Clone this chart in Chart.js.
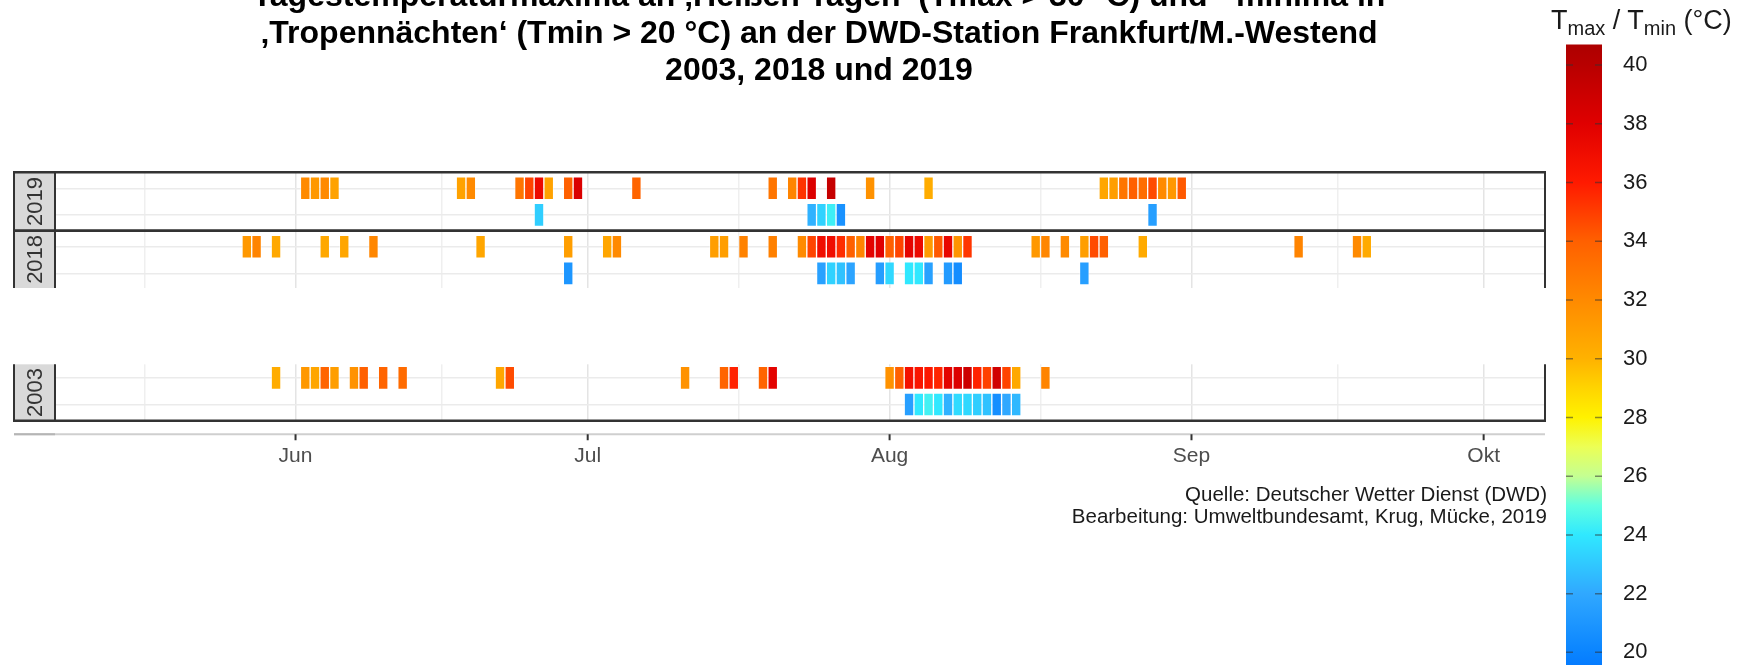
<!DOCTYPE html>
<html lang="de">
<head>
<meta charset="utf-8">
<title>Heiße Tage und Tropennächte – Frankfurt/M.-Westend</title>
<script src="https://cdn.jsdelivr.net/npm/chart.js@4.4.0/dist/chart.umd.min.js"></script>
<style>
    html, body { margin: 0; padding: 0; background: #fff; }
    #wrap { position: relative; width: 1744px; height: 665px; overflow: hidden; font-family: 'Liberation Sans', Arial, sans-serif; }
    #haupt { position: absolute; left: 0; top: 0; }
    #skala { position: absolute; left: 1560px; top: 0; }
    #titel { position: absolute; left: 0; top: -23px; width: 1638px; text-align: center; font-weight: bold; font-size: 32px; line-height: 37px; color: #000; white-space: nowrap; }
    #quelle { position: absolute; right: 197px; top: 483px; text-align: right; font-size: 20.5px; line-height: 22px; color: #1a1a1a; white-space: nowrap; }
    #skalaTitel { position: absolute; left: 1551px; top: 6px; font-size: 27px; line-height: 28px; color: #1a1a1a; white-space: nowrap; }
    #skalaTitel sub { font-size: 20px; line-height: 0; vertical-align: -6px; }
</style>
</head>
<body>
<div id="wrap">
    <canvas id="haupt" width="1744" height="665"></canvas>
    <canvas id="skala" width="184" height="665"></canvas>
    <div id="titel">Tagestemperaturmaxima an ‚Heißen Tagen‘ (Tmax &gt; 30 °C) und&nbsp; -minima in<br>‚Tropennächten‘ (Tmin &gt; 20 °C) an der DWD-Station Frankfurt/M.-Westend<br>2003, 2018 und 2019</div>
    <div id="skalaTitel">T<sub>max</sub> / T<sub>min</sub> (°C)</div>
    <div id="quelle">Quelle: Deutscher Wetter Dienst (DWD)<br>Bearbeitung: Umweltbundesamt, Krug, Mücke, 2019</div>
</div>
<script>
// Achse: Tag im Jahr (kein Schaltjahr)
const monatsTage = [152, 182, 213, 244, 274];
const monatsNamen = ['Jun', 'Jul', 'Aug', 'Sep', 'Okt'];
const zwischenTage = [136.5, 167, 197.5, 228.5, 259];

// 2019
const tage2019Max = [153, 154, 155, 156, 169, 170, 175, 176, 177, 178, 180, 181, 187, 201, 203, 204, 205, 207, 211, 217, 235, 236, 237, 238, 239, 240, 241, 242, 243];
const temp2019Max = [32.0, 31.3, 32.0, 30.8, 30.8, 32.0, 33.0, 34.8, 37.2, 30.8, 34.0, 38.3, 33.8, 33.0, 32.3, 35.3, 38.2, 39.3, 31.6, 30.3, 30.6, 31.0, 33.0, 34.0, 33.4, 34.6, 32.0, 31.3, 34.2];
const tage2019Min = [177, 205, 206, 207, 208, 240];
const temp2019Min = [23.2, 22.3, 23.3, 24.3, 20.8, 21.5];

// 2018
const tage2018Max = [147, 148, 150, 155, 157, 160, 171, 180, 184, 185, 195, 196, 198, 201, 204, 205, 206, 207, 208, 209, 210, 211, 212, 213, 214, 215, 216, 217, 218, 219, 220, 221, 228, 229, 231, 233, 234, 235, 239, 255, 261, 262];
const temp2018Max = [31.3, 32.3, 30.5, 30.5, 30.6, 32.2, 30.6, 31.0, 30.6, 32.0, 31.0, 31.0, 32.4, 32.5, 32.0, 34.8, 37.0, 37.0, 35.5, 34.0, 32.3, 37.8, 38.0, 34.0, 34.8, 37.7, 37.3, 31.2, 34.2, 37.5, 31.5, 35.2, 31.3, 32.2, 32.0, 31.0, 34.6, 34.0, 30.4, 32.3, 32.0, 30.4];
const tage2018Min = [180, 206, 207, 208, 209, 212, 213, 215, 216, 217, 219, 220, 233];
const temp2018Min = [21.0, 21.6, 23.3, 22.8, 21.8, 21.4, 23.5, 24.0, 24.0, 21.6, 21.3, 20.5, 21.5];

// 2003
const tage2003Max = [150, 153, 154, 155, 156, 158, 159, 161, 163, 173, 174, 192, 196, 197, 200, 201, 213, 214, 215, 216, 217, 218, 219, 220, 221, 222, 223, 224, 225, 226, 229];
const temp2003Max = [30.3, 31.3, 30.6, 33.8, 31.0, 31.6, 34.0, 33.8, 33.5, 30.6, 34.6, 31.6, 33.8, 35.8, 33.8, 37.8, 31.6, 34.0, 36.8, 36.4, 36.2, 35.7, 37.8, 38.2, 39.0, 35.8, 34.9, 38.8, 34.8, 30.5, 32.3];
const tage2003Min = [215, 216, 217, 218, 219, 220, 221, 222, 223, 224, 225, 226];
const temp2003Min = [21.5, 24.0, 24.4, 24.0, 22.3, 23.6, 23.5, 23.2, 22.8, 20.6, 22.0, 22.5];

// Farbskala
const skalaTemp = [19, 20, 22, 24, 25, 26, 27, 28, 29, 30, 32, 34, 36, 38, 40, 41];
const skalaFarbe = ['#0070ff', '#0a84ff', '#30a8ff', '#30e8ff', '#60ffe0', '#c4ff92', '#ecff55', '#fff200', '#ffd400', '#ffb200', '#ff8a00', '#ff6000', '#ff1a00', '#e00000', '#b80000', '#a80000'];

// Layout der Panels (y-Einheiten: eine Zeile = 1)
const zeilen = { '2019': [0, 1], '2018': [2.2, 3.2], '2003': [7.13, 8.13] };
const panels = [
    { jahr: '2019', oben: -0.6, unten: 1.6, linieOben: true, linieUnten: true },
    { jahr: '2018', oben: 1.6, unten: 3.75, linieOben: true, linieUnten: false },
    { jahr: '2003', oben: 6.62, unten: 8.74, linieOben: false, linieUnten: true }
];

Chart.defaults.font.family = "'Liberation Sans', Arial, sans-serif";

function hexZuRgb(h) {
    return [parseInt(h.slice(1, 3), 16), parseInt(h.slice(3, 5), 16), parseInt(h.slice(5, 7), 16)];
}

// Temperatur -> Farbe (lineare Interpolation zwischen den Stützstellen)
function farbeFuer(t) {
    let i = 0;
    while (i < skalaTemp.length - 2 && t > skalaTemp[i + 1]) i++;
    const f = Math.max(0, Math.min(1, (t - skalaTemp[i]) / (skalaTemp[i + 1] - skalaTemp[i])));
    const a = hexZuRgb(skalaFarbe[i]);
    const b = hexZuRgb(skalaFarbe[i + 1]);
    const c = a.map((v, k) => Math.round(v + (b[k] - v) * f));
    return `rgb(${c[0]},${c[1]},${c[2]})`;
}

function reihe(label, tage, temps, zeile) {
    return {
        label: label,
        data: tage.map(d => ({ x: [d - 0.5, d + 0.5], y: zeile })),
        backgroundColor: temps.map(farbeFuer)
    };
}

const datensaetze = [
    reihe('2019 Tmax', tage2019Max, temp2019Max, zeilen['2019'][0]),
    reihe('2019 Tmin', tage2019Min, temp2019Min, zeilen['2019'][1]),
    reihe('2018 Tmax', tage2018Max, temp2018Max, zeilen['2018'][0]),
    reihe('2018 Tmin', tage2018Min, temp2018Min, zeilen['2018'][1]),
    reihe('2003 Tmax', tage2003Max, temp2003Max, zeilen['2003'][0]),
    reihe('2003 Tmin', tage2003Min, temp2003Min, zeilen['2003'][1])
];

// Rahmen, Jahres-Streifen und untere Achse
const panelRahmen = {
    id: 'panelRahmen',
    beforeDatasetsDraw(chart) {
        const { ctx, scales: { y } } = chart;
        // Lücke zwischen 2018 und 2003 freistellen
        const y1 = y.getPixelForValue(panels[1].unten);
        const y2 = y.getPixelForValue(panels[2].oben);
        ctx.save();
        ctx.fillStyle = '#fff';
        ctx.fillRect(0, y1, chart.width, y2 - y1);
        ctx.restore();
    },
    afterDatasetsDraw(chart) {
        const { ctx, chartArea, scales: { x, y } } = chart;
        const links = chartArea.left - 41;
        ctx.save();
        panels.forEach(p => {
            const yo = y.getPixelForValue(p.oben);
            const yu = y.getPixelForValue(p.unten);
            ctx.fillStyle = '#d9d9d9';
            ctx.fillRect(links, yo, chartArea.left - links, yu - yo);

            ctx.save();
            ctx.translate((links + chartArea.left) / 2, (yo + yu) / 2);
            ctx.rotate(-Math.PI / 2);
            ctx.fillStyle = '#333';
            ctx.font = "22px 'Liberation Sans', Arial, sans-serif";
            ctx.textAlign = 'center';
            ctx.textBaseline = 'middle';
            ctx.fillText(p.jahr, 0, 1);
            ctx.restore();

            ctx.strokeStyle = '#333';
            ctx.lineWidth = 2;
            ctx.beginPath();
            [links, chartArea.left, chartArea.right].forEach(px => {
                ctx.moveTo(px, yo);
                ctx.lineTo(px, yu);
            });
            ctx.stroke();
            ctx.lineWidth = 2.5;
            ctx.beginPath();
            if (p.linieOben) { ctx.moveTo(links - 1, yo); ctx.lineTo(chartArea.right + 1, yo); }
            if (p.linieUnten) { ctx.moveTo(links - 1, yu); ctx.lineTo(chartArea.right + 1, yu); }
            ctx.stroke();
        });

        // graue Achsenlinie mit Monatsstrichen
        const ya = chartArea.bottom + 13.5;
        ctx.strokeStyle = '#cfcfcf';
        ctx.lineWidth = 2;
        ctx.beginPath();
        ctx.moveTo(links, ya);
        ctx.lineTo(chartArea.right, ya);
        ctx.stroke();
        ctx.strokeStyle = '#b5b5b5';
        ctx.beginPath();
        ctx.moveTo(links, ya);
        ctx.lineTo(chartArea.left, ya);
        ctx.stroke();
        ctx.strokeStyle = '#333';
        ctx.beginPath();
        monatsTage.forEach(d => {
            const px = x.getPixelForValue(d);
            ctx.moveTo(px, ya);
            ctx.lineTo(px, ya + 6);
        });
        ctx.stroke();
        ctx.restore();
    }
};

new Chart(document.getElementById('haupt'), {
    type: 'bar',
    data: { datasets: datensaetze },
    options: {
        indexAxis: 'y',
        responsive: false,
        animation: false,
        events: [],
        layout: { autoPadding: false, padding: { left: 55, right: 199, top: 172.3, bottom: 184.3 } },
        plugins: { legend: { display: false }, tooltip: { enabled: false } },
        datasets: {
            bar: {
                grouped: false,
                barThickness: 23,
                borderWidth: 1,
                borderColor: 'rgba(255,255,255,0.45)',
                borderSkipped: false
            }
        },
        scales: {
            x: {
                type: 'linear',
                min: 127.3,
                max: 280.3,
                offset: false,
                afterBuildTicks: s => { s.ticks = zwischenTage.concat(monatsTage).sort((a, b) => a - b).map(v => ({ value: v })); },
                afterFit: s => { s.height = 60; },
                border: { display: false },
                grid: {
                    drawTicks: false,
                    offset: false,
                    lineWidth: 1.5,
                    color: c => monatsTage.includes(c.tick.value) ? '#e4e4e4' : '#efefef'
                },
                ticks: {
                    autoSkip: false,
                    maxRotation: 0,
                    padding: 23,
                    color: '#4d4d4d',
                    font: { size: 21 },
                    callback: v => {
                        const i = monatsTage.indexOf(v);
                        return i >= 0 ? monatsNamen[i] : '';
                    }
                }
            },
            y: {
                type: 'linear',
                reverse: true,
                offset: false,
                min: -0.6,
                max: 8.74,
                afterBuildTicks: s => { s.ticks = [].concat(zeilen['2019'], zeilen['2018'], zeilen['2003']).map(v => ({ value: v })); },
                afterFit: s => { s.width = 0; },
                border: { display: false },
                grid: { drawTicks: false, offset: false, lineWidth: 1.5, color: '#ebebeb' },
                ticks: { display: false }
            }
        }
    },
    plugins: [panelRahmen]
});

// Farblegende
const farbBalken = {
    id: 'farbBalken',
    afterDraw(chart) {
        const { ctx, chartArea, scales: { y } } = chart;
        const t0 = skalaTemp[0], t1 = skalaTemp[skalaTemp.length - 1];
        const grad = ctx.createLinearGradient(0, y.getPixelForValue(t0), 0, y.getPixelForValue(t1));
        skalaTemp.forEach((t, i) => grad.addColorStop((t - t0) / (t1 - t0), skalaFarbe[i]));
        ctx.save();
        ctx.fillStyle = grad;
        ctx.fillRect(chartArea.left, chartArea.top, chartArea.right - chartArea.left, chartArea.bottom - chartArea.top);
        ctx.strokeStyle = 'rgba(50,50,50,0.55)';
        ctx.lineWidth = 1.5;
        ctx.beginPath();
        y.ticks.forEach(t => {
            const py = y.getPixelForValue(t.value);
            ctx.moveTo(chartArea.left, py);
            ctx.lineTo(chartArea.left + 7, py);
            ctx.moveTo(chartArea.right - 7, py);
            ctx.lineTo(chartArea.right, py);
        });
        ctx.stroke();
        ctx.restore();
    }
};

new Chart(document.getElementById('skala'), {
    type: 'bar',
    data: { datasets: [] },
    options: {
        responsive: false,
        animation: false,
        events: [],
        layout: { autoPadding: false, padding: { left: 6, top: 44.5, right: 0, bottom: 0 } },
        plugins: { legend: { display: false }, tooltip: { enabled: false } },
        scales: {
            x: { display: false },
            y: {
                position: 'right',
                min: 19.57,
                max: 40.70,
                afterFit: s => {
                    s.width = 142;
                    s.paddingTop = 0;
                    s.paddingBottom = 0;
                },
                border: { display: false },
                grid: { display: false },
                ticks: { stepSize: 2, includeBounds: false, padding: 13, color: '#1a1a1a', font: { size: 22 } }
            }
        }
    },
    plugins: [farbBalken]
});
</script>
</body>
</html>
